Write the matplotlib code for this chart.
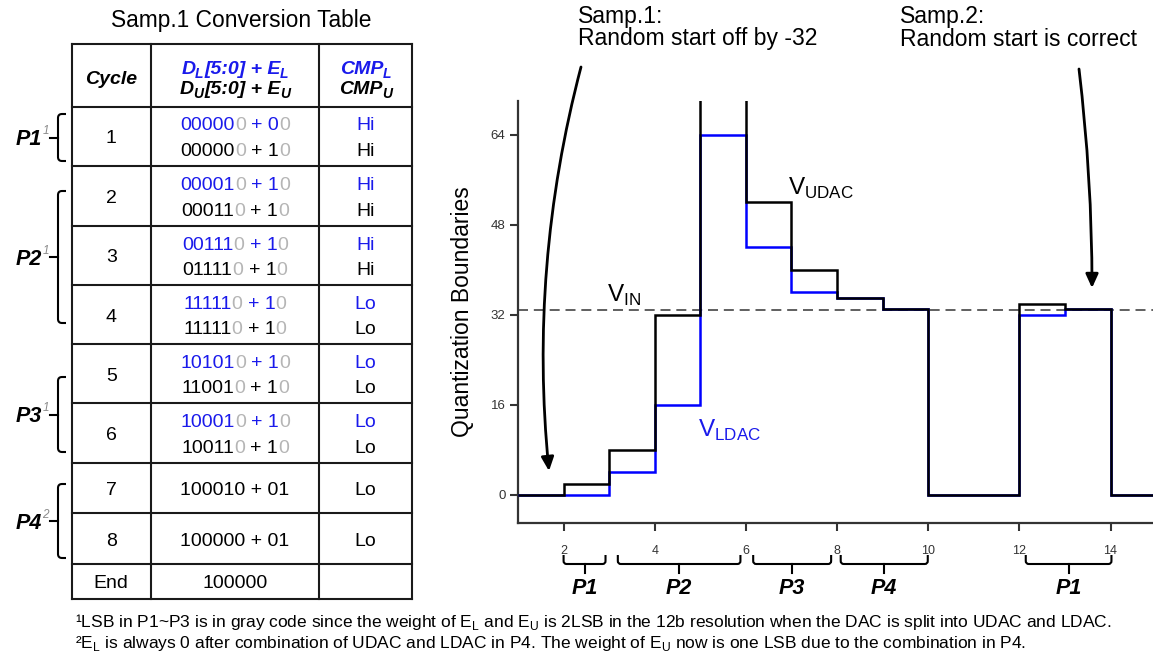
import matplotlib
matplotlib.use("Agg")
import matplotlib.pyplot as plt
import matplotlib.transforms as mtransforms
from matplotlib.patches import FancyArrowPatch, PathPatch
from matplotlib.path import Path

plt.rcParams["font.family"] = ["Liberation Sans", "DejaVu Sans"]

# ---------------- data ----------------
# DAC levels per conversion cycle (LSB units), cycle edges on the x axis
cycle_edges = [1, 2, 3, 4, 5, 6, 7, 8, 9, 10, 11, 12, 13, 14, 15]
v_udac = [0, 2, 8, 32, 96, 52, 40, 35, 33, 0, 0, 34, 33, 0]
v_ldac = [0, 0, 4, 16, 64, 44, 36, 35, 33, 0, 0, 32, 33, 0]
v_in = 32.8
x_ticks = [2, 4, 6, 8, 10, 12, 14]
y_ticks = [0, 16, 32, 48, 64]

# phase braces under the x axis
phase_names = ["P1", "P2", "P3", "P4", "P1"]
phase_from = [2.0, 3.19, 6.16, 8.08, 12.14]
phase_to = [2.92, 5.88, 7.87, 9.99, 14.02]

# conversion table
cycles = ["1", "2", "3", "4", "5", "6", "7", "8", "End"]
dl_codes = ["000000", "000010", "001110", "111110", "101010", "100010"]
el_codes = ["00", "10", "10", "10", "10", "10"]
du_codes = ["000000", "000110", "011110", "111110", "110010", "100110"]
eu_codes = ["10", "10", "10", "10", "10", "10"]
cmp_l = ["Hi", "Hi", "Hi", "Lo", "Lo", "Lo"]
cmp_u = ["Hi", "Hi", "Hi", "Lo", "Lo", "Lo"]
d_codes = ["100010", "100000"]
e_codes = ["01", "01"]
cmp_c = ["Lo", "Lo"]
end_code = "100000"

group_names = ["P1", "P2", "P3", "P4"]
group_notes = ["1", "1", "1", "2"]

BLUE_LINE = "#0000ff"
BLUE_TXT = "#1a1aeb"
GRAY = "#b5b5b5"
AX_GRAY = "#333333"

W, H = 1153, 654
fig = plt.figure(figsize=(W / 100, H / 100), dpi=100)

# ---------------- chart ----------------
ax = fig.add_axes([518 / W, 1 - 523 / H, (W - 518) / W, (523 - 101) / H])
ax.stairs(v_ldac, cycle_edges, baseline=None, color=BLUE_LINE, lw=1.8, zorder=3)
ax.stairs(v_udac, cycle_edges, baseline=None, color="black", lw=1.8, zorder=4)
ax.axhline(v_in, color="#444444", lw=1.2, dashes=(6, 3.5), zorder=2)
ax.set_xlim(1, 1 + (W - 518) / 45.58)
ax.set_ylim(-5, 70)
ax.set_xticks(x_ticks)
ax.set_yticks(y_ticks)
for s in ["top", "right"]:
    ax.spines[s].set_visible(False)
for s in ["left", "bottom"]:
    ax.spines[s].set_linewidth(1.6)
    ax.spines[s].set_color(AX_GRAY)
ax.tick_params(axis="both", direction="out", length=5.5, width=1.5,
               color=AX_GRAY, labelcolor=AX_GRAY)
ax.tick_params(axis="x", pad=10, labelsize=9)
ax.tick_params(axis="y", pad=3.5, labelsize=9.5)
ax.set_ylabel("Quantization Boundaries", fontsize=16.5)
ax.yaxis.set_label_coords(-0.07, 0.5)

ax.text(2.944, 34.3, r"V$_\mathregular{IN}$", fontsize=17.5, va="baseline")
ax.text(6.915, 53.3, r"V$_\mathregular{UDAC}$", fontsize=17.5, va="baseline")
ax.text(4.96, 10.3, r"V$_\mathregular{LDAC}$", fontsize=17.5, va="baseline",
        color=BLUE_TXT)

# ---------------- overlay in pixel coords ----------------
ov = fig.add_axes([0, 0, 1, 1], zorder=5)
ov.set_autoscale_on(False)
ov.set_xlim(0, W)
ov.set_ylim(H, 0)
ov.axis("off")
ov.patch.set_visible(False)
renderer = fig.canvas.get_renderer()


def tw(s, **kw):
    t = ov.text(0, 0, s, **kw)
    w = t.get_window_extent(renderer).width
    t.remove()
    return w


def color_line(xc, yb, s, colors, size=14):
    kw = dict(fontsize=size)
    left = xc - tw(s, **kw) / 2
    k = 0
    while k < len(s):
        if s[k] == " ":
            k += 1
            continue
        j = k + 1
        while j < len(s) and (s[j] == " " or colors[j] == colors[k]):
            j += 1
        off = tw(s[:k + 1], **kw) - tw(s[k], **kw)
        ov.text(left + off, yb, s[k:j].rstrip(), color=colors[k],
                ha="left", va="baseline", **kw)
        k = j


def code_line(xc, yb, d, e, color, gray_lsb):
    s = f"{d} + {e}"
    colors = [color] * len(s)
    if gray_lsb:
        colors[len(d) - 1] = GRAY
        colors[-1] = GRAY
    color_line(xc, yb, s, colors)


def sub_line(xc, yb, pieces, color, size=14, sub_size=10):
    kw = dict(fontweight="bold", fontstyle="italic")
    widths = [tw(p, fontsize=(sub_size if sub else size), **kw) for p, sub in pieces]
    gaps = [(-0.5 if sub else 1.0) for p, sub in pieces[1:]]
    x = xc - (sum(widths) + sum(gaps)) / 2
    for n, ((p, sub), w) in enumerate(zip(pieces, widths)):
        ov.text(x, yb + (4 if sub else 0), p, fontsize=(sub_size if sub else size),
                color=color, ha="left", va="baseline", **kw)
        if n < len(gaps):
            x += w + gaps[n]


# table grid
col_x = [71.7, 150.7, 319.3, 411.7]
row_y = [44.3, 106.7, 165.7, 225.7, 285.0, 344.0, 403.3, 462.7, 513.3, 564.0, 598.7]
for x in col_x:
    ov.plot([x, x], [row_y[0], row_y[-1]], color="#1a1a1a", lw=1.5)
for y in row_y:
    ov.plot([col_x[0], col_x[-1]], [y, y], color="#1a1a1a", lw=1.5)

cx_cyc = (col_x[0] + col_x[1]) / 2
cx_code = (col_x[1] + col_x[2]) / 2
cx_cmp = (col_x[2] + col_x[3]) / 2

ov.text(241.5, 26.7, "Samp.1 Conversion Table", fontsize=16.4, ha="center", va="baseline")

# header
ov.text(cx_cyc, 77 + 7, "Cycle", fontsize=14, fontweight="bold", fontstyle="italic",
        ha="center", va="baseline")
sub_line(cx_code, 66.7 + 7, [("D", False), ("L", True), ("[5:0] + E", False), ("L", True)], BLUE_TXT)
sub_line(cx_code, 87.3 + 7, [("D", False), ("U", True), ("[5:0] + E", False), ("U", True)], "black")
sub_line(cx_cmp, 66.7 + 7, [("CMP", False), ("L", True)], BLUE_TXT)
sub_line(cx_cmp, 87.3 + 7, [("CMP", False), ("U", True)], "black")

# split-DAC rows
for i in range(len(dl_codes)):
    mid = (row_y[i + 1] + row_y[i + 2]) / 2
    ov.text(cx_cyc, mid + 7, cycles[i], fontsize=14, ha="center", va="baseline")
    code_line(cx_code, mid - 12.8 + 7, dl_codes[i], el_codes[i], BLUE_TXT, True)
    code_line(cx_code, mid + 12.8 + 7, du_codes[i], eu_codes[i], "black", True)
    ov.text(cx_cmp, mid - 12.8 + 7, cmp_l[i], fontsize=14, color=BLUE_TXT, ha="center", va="baseline")
    ov.text(cx_cmp, mid + 12.8 + 7, cmp_u[i], fontsize=14, ha="center", va="baseline")

# combined rows
n0 = len(dl_codes)
for i in range(len(d_codes)):
    mid = (row_y[n0 + i + 1] + row_y[n0 + i + 2]) / 2
    ov.text(cx_cyc, mid + 7, cycles[n0 + i], fontsize=14, ha="center", va="baseline")
    code_line(cx_code, mid + 7, d_codes[i], e_codes[i], "black", False)
    ov.text(cx_cmp, mid + 7, cmp_c[i], fontsize=14, ha="center", va="baseline")

mid = (row_y[-2] + row_y[-1]) / 2
ov.text(cx_cyc, mid + 7, cycles[-1], fontsize=14, ha="center", va="baseline")
ov.text(cx_code, mid + 7, end_code, fontsize=14, ha="center", va="baseline")

# left phase brackets
bracket_top = [114, 191, 377, 484]
bracket_bot = [161, 323, 452, 558]
for name, note, top, bot in zip(group_names, group_notes, bracket_top, bracket_bot):
    xv, xr, r = 58, 66, 4
    verts = [(xr, top), (xv + r, top), (xv, top), (xv, top + r),
             (xv, bot - r), (xv, bot), (xv + r, bot), (xr, bot)]
    codes = [Path.MOVETO, Path.LINETO, Path.CURVE3, Path.CURVE3,
             Path.LINETO, Path.CURVE3, Path.CURVE3, Path.LINETO]
    ov.add_patch(PathPatch(Path(verts, codes), fill=False, lw=1.5, ec="black"))
    m = (top + bot) / 2
    ov.plot([xv - 8, xv], [m, m], color="black", lw=1.5)
    ov.text(42, m + 7.7, name, fontsize=15.5, fontweight="bold", fontstyle="italic",
            ha="right", va="baseline")
    ov.text(42.5, m - 3.5, note, fontsize=8.5, color="#8a8a8a", fontstyle="italic",
            ha="left", va="baseline")

# phase braces under the axis (x in data, y in pixels)
trans = mtransforms.blended_transform_factory(ax.transData, ov.transData)
rx = 3 / 45.58
for name, x0, x1 in zip(phase_names, phase_from, phase_to):
    verts = [(x0, 555), (x0, 561), (x0, 564), (x0 + rx, 564),
             (x1 - rx, 564), (x1, 564), (x1, 561), (x1, 555)]
    codes = [Path.MOVETO, Path.LINETO, Path.CURVE3, Path.CURVE3,
             Path.LINETO, Path.CURVE3, Path.CURVE3, Path.LINETO]
    ov.add_patch(PathPatch(Path(verts, codes), fill=False, lw=1.5, ec="black",
                           transform=trans))
    xc = (x0 + x1) / 2
    ov.plot([xc, xc], [564, 573], color="black", lw=1.5, transform=trans)
    ov.text(xc, 594, name, fontsize=15.5, fontweight="bold", fontstyle="italic",
            ha="center", va="baseline", transform=trans)

# sample annotations
ov.text(578, 23.5, "Samp.1:", fontsize=16.5, va="baseline")
ov.text(578, 45.5, "Random start off by -32", fontsize=16.5, va="baseline")
ov.text(900, 23.5, "Samp.2:", fontsize=16.5, va="baseline")
ov.text(900, 45.5, "Random start is correct", fontsize=16.5, va="baseline")
ov.add_patch(FancyArrowPatch((581, 67), (549, 471), connectionstyle="arc3,rad=0.09",
                             arrowstyle="-|>,head_length=0.55,head_width=0.25",
                             mutation_scale=15, lw=2, color="black", shrinkA=0, shrinkB=0))
ov.add_patch(FancyArrowPatch((1079, 69), (1092, 288), connectionstyle="arc3,rad=-0.03",
                             arrowstyle="-|>,head_length=0.55,head_width=0.25",
                             mutation_scale=15, lw=2, color="black", shrinkA=0, shrinkB=0))

# footnotes
fn1 = (r"¹LSB in P1~P3 is in gray code since the weight of "
       r"E$_\mathregular{L}$ and E$_\mathregular{U}$ is 2LSB in the 12b resolution "
       r"when the DAC is split into UDAC and LDAC.")
fn2 = (r"²E$_\mathregular{L}$ is always 0 after combination of UDAC "
       r"and LDAC in P4. The weight of E$_\mathregular{U}$ now is one LSB due to the "
       r"combination in P4.")
ov.text(75, 627, fn1, fontsize=12.5, va="baseline")
ov.text(75, 648, fn2, fontsize=12.5, va="baseline")

fig.savefig("out.png", dpi=100)
